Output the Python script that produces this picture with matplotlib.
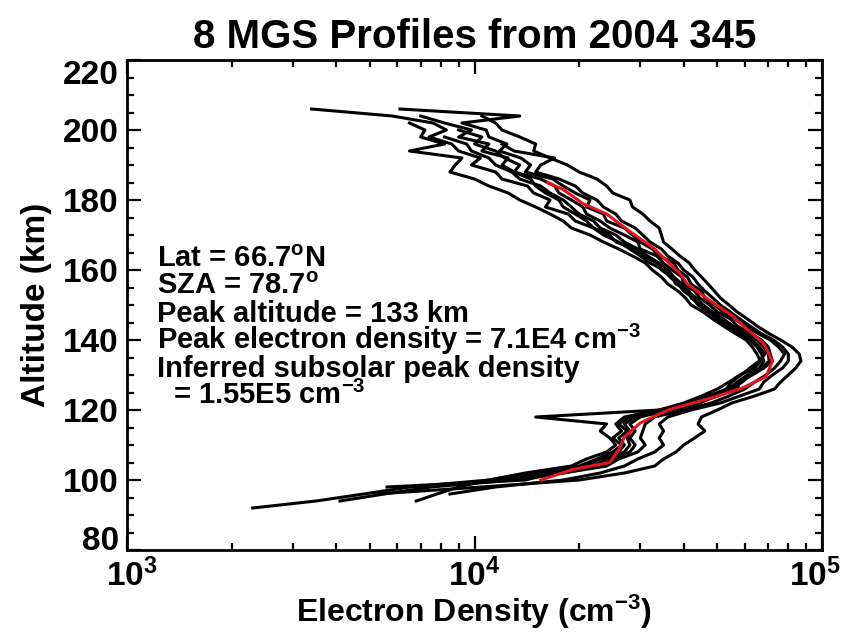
import numpy as np
import matplotlib.pyplot as plt
from matplotlib.transforms import ScaledTranslation

plt.rcParams["font.family"] = ["Liberation Sans", "DejaVu Sans"]
plt.rcParams["font.weight"] = "bold"
plt.rcParams["axes.titleweight"] = "bold"
plt.rcParams["axes.labelweight"] = "bold"
plt.rcParams["mathtext.fontset"] = "custom"
plt.rcParams["mathtext.rm"] = "Liberation Sans:bold"
plt.rcParams["mathtext.it"] = "Liberation Sans:bold"
plt.rcParams["mathtext.bf"] = "Liberation Sans:bold"

nan = np.nan

# altitude grid (km), shared by the 8 profiles
ALT = [206, 204, 202, 200, 198, 196, 194, 192, 190, 188, 186, 184, 182, 180, 178,
       176, 174, 172, 170, 168, 166, 164, 162, 160, 158, 156, 154, 152, 150, 148,
       146, 144, 142, 140, 138, 136, 134, 132, 130, 128, 126, 124, 122, 120, 118,
       116, 114, 112, 110, 108, 106, 104, 102, 100, 98, 96, 94, 92]

# electron density, units of 1e3 cm^-3
P1 = [3.4, 5.8, 7.6, 8.3, 7.4, 8.6, 9.0, 10.4, 9.8, 11.5, 12.0, 14.2, 14.8, 16.5, 16.0,
      18.6, 19.5, 22.0, 24.5, 25.5, 29.0, 30.5, 33.5, 34.5, 37.0, 38.0, 41.5, 42.0, 45.0, 47.5,
      51.0, 54.0, 58.0, 63.0, 66.0, 68.5, 66.0, 62.0, 58.5, 55.0, 53.0, 47.5, 42.0, 34.0, 27.0,
      25.5, 26.5, 25.0, 26.5, 25.0, 22.5, 20.0, 15.0, 11.0, 6.5, 4.8, 3.5, 2.3]
P2 = [6.1, 13.5, 9.2, 10.8, 11.0, 12.4, 11.8, 13.6, 14.5, 14.0, 16.8, 18.0, 19.5, 21.5, 21.0,
      23.5, 24.0, 27.0, 28.5, 30.0, 32.5, 34.0, 37.5, 38.5, 41.0, 42.0, 45.0, 46.0, 49.0, 52.0,
      56.0, 60.0, 65.0, 71.0, 75.0, 78.0, 76.0, 73.0, 69.0, 64.0, 60.0, 54.0, 48.0, 40.0, 33.0,
      31.0, 30.5, 30.0, 31.0, 29.5, 26.0, 24.0, 18.0, 13.0, 7.5, 5.5, 4.1, nan]
P3 = [nan, 10.5, 11.5, 12.0, 13.5, 15.0, 14.8, 16.5, 18.5, 20.0, 22.5, 24.0, 25.0, 28.0, 28.5,
      30.5, 32.0, 34.0, 34.5, 35.0, 37.0, 39.0, 41.5, 43.0, 45.0, 47.0, 49.0, 51.0, 54.0, 57.0,
      61.0, 65.0, 70.0, 76.0, 82.0, 86.0, 87.0, 84.0, 80.0, 76.0, 73.0, 64.0, 55.0, 50.0, 45.0,
      44.0, 46.0, 43.0, 40.0, 38.0, 35.0, 33.0, 27.0, 20.0, 10.5, 5.2, nan, nan]
P4 = [nan, nan, 6.5, 7.2, 7.0, 8.2, 6.5, 9.2, 8.8, 8.5, 10.0, 11.0, 12.5, 13.5, 15.0,
      16.5, 18.0, 19.0, 21.5, 23.5, 26.0, 28.5, 31.0, 32.5, 34.5, 36.0, 38.5, 40.5, 42.0, 45.5,
      48.5, 52.0, 56.0, 60.5, 63.0, 65.0, 66.5, 64.0, 58.0, 54.0, 50.0, 45.0, 40.0, 34.0, 15.0,
      24.0, 23.0, 24.5, 25.5, 24.0, 21.0, 19.0, 14.0, 11.0, 9.0, 7.8, 6.8, nan]
P5 = [nan, nan, nan, 9.0, 10.5, 10.0, 11.5, 12.2, 13.5, 13.0, 15.5, 17.0, 17.5, 19.0, 20.5,
      21.0, 23.0, 24.5, 27.0, 29.5, 30.0, 33.5, 35.0, 37.0, 39.5, 40.0, 43.0, 44.5, 47.5, 50.0,
      54.5, 57.0, 62.0, 67.0, 70.0, 71.0, 72.0, 68.0, 63.0, 58.0, 57.0, 50.0, 44.0, 36.0, 30.0,
      28.0, 29.0, 28.0, 29.0, 28.0, 25.0, 23.0, 18.0, 13.0, 6.3, nan, nan, nan]
P6 = [nan, nan, nan, nan, 8.2, 9.5, 9.8, 11.0, 11.5, 12.8, 13.5, 15.5, 16.5, 18.0, 19.0,
      20.0, 22.0, 23.0, 25.5, 27.0, 29.5, 31.5, 34.0, 36.0, 37.5, 39.5, 41.0, 43.5, 45.5, 48.5,
      52.0, 55.5, 59.5, 65.0, 68.0, 70.0, 70.5, 67.0, 62.0, 59.0, 55.0, 49.0, 44.5, 37.0, 29.0,
      27.0, 28.0, 27.5, 28.0, 27.0, 24.0, 22.0, 17.0, 14.0, 5.6, nan, nan, nan]
P7 = [nan, nan, nan, nan, nan, 12.0, 13.0, 17.0, 15.5, 15.0, 17.5, 19.5, 20.5, 22.5, 23.5,
      25.5, 26.5, 29.0, 30.5, 32.0, 34.5, 36.0, 38.5, 40.0, 42.5, 44.0, 46.0, 48.5, 51.0, 54.5,
      58.0, 62.0, 66.5, 72.5, 77.0, 80.0, 80.0, 77.0, 72.0, 68.0, 66.0, 58.0, 51.0, 42.0, 36.0,
      34.0, 35.0, 34.0, 35.0, 33.0, 29.5, 27.0, 23.0, 18.0, 11.5, 8.5, nan, nan]
P8 = [nan, 7.0, 8.2, 9.8, 9.0, 11.0, 10.5, 12.5, 12.0, 13.0, 14.5, 15.0, 16.0, 17.5, 18.0,
      19.5, 21.0, 22.0, 23.5, 26.0, 28.0, 30.0, 32.0, 35.0, 36.5, 38.5, 40.0, 42.5, 44.0, 47.0,
      50.0, 53.0, 57.0, 62.0, 65.0, 67.0, 68.0, 66.0, 61.0, 57.0, 54.0, 47.0, 43.0, 35.0, 28.0,
      26.0, 27.5, 26.0, 27.0, 26.0, 23.0, 21.0, 16.0, 12.0, nan, nan, nan, nan]
PROFILES = [P1, P2, P3, P4, P5, P6, P7, P8]

# mean profile (red)
MEAN_ALT = [185, 183, 179, 176, 171, 166, 159, 156, 151, 147, 143, 139, 134, 129.5,
            126.3, 123.7, 120, 116.3, 112.3, 108.6, 105, 103, 100]
MEAN_DENS = [16.2, 18.0, 20.5, 24.0, 28.0, 33.0, 39.0, 41.0, 48.0, 55.0, 61.0, 68.0, 72.0, 69.0,
             59.0, 49.0, 36.0, 30.0, 27.0, 26.0, 24.5, 19.2, 15.5]

INFO = [
    r"Lat = 66.7$^{\rm o}$N",
    r"SZA = 78.7$^{\rm o}$",
    "Peak altitude = 133 km",
    r"Peak electron density = 7.1E4 cm$^{-3}$",
    "Inferred subsolar peak density",
    r"  = 1.55E5 cm$^{-3}$",
]

W, H = 845, 632
fig = plt.figure(figsize=(W / 100, H / 100), dpi=100)
ax = fig.add_axes([127 / W, 1 - 550 / H, (822 - 127) / W, (550 - 60) / H])

alt = np.array(ALT, dtype=float)
for p in PROFILES:
    ax.plot(np.array(p) * 1e3, alt, color="black", lw=2.2)
ax.plot(np.array(MEAN_DENS) * 1e3, MEAN_ALT, color="#e3141c", lw=2.2)

ax.set_xscale("log")
ax.set_xlim(1e3, 1e5)
ax.set_ylim(80, 220)
ax.set_xticks([1e3, 1e4, 1e5], labels=[r"$10^{3}$", r"$10^{4}$", r"$10^{5}$"])
ax.set_yticks(range(80, 221, 20))
ax.set_yticks(range(80, 221, 5), minor=True)
ax.tick_params(which="both", direction="in", top=True, right=True, width=1.6,
               labelsize=24)
ax.tick_params(which="major", length=10, pad=6)
ax.tick_params(which="minor", length=5)
for s in ax.spines.values():
    s.set_linewidth(2)

# end labels sit a little inside the axes box
shift = {"80": (0, 0.12), "220": (0, -0.12)}
for lab in ax.get_yticklabels():
    if lab.get_text() in shift:
        dx, dy = shift[lab.get_text()]
        lab.set_transform(lab.get_transform() + ScaledTranslation(dx, dy, fig.dpi_scale_trans))
xl = ax.get_xticklabels()
xl[0].set_transform(xl[0].get_transform() + ScaledTranslation(0.05, 0, fig.dpi_scale_trans))
xl[-1].set_transform(xl[-1].get_transform() + ScaledTranslation(-0.07, 0, fig.dpi_scale_trans))

ax.set_xlabel(r"Electron Density (cm$^{-3}$)", fontsize=23, labelpad=0)
ax.set_ylabel("Altitude (km)", fontsize=24, labelpad=8)
ax.set_title("8 MGS Profiles from 2004 345", fontsize=29, pad=9)

for i, line in enumerate(INFO):
    fig.text(157 / W, 1 - (267 + 27.5 * i) / H, line, fontsize=21, va="baseline", ha="left")

fig.savefig("out.png", dpi=100)
